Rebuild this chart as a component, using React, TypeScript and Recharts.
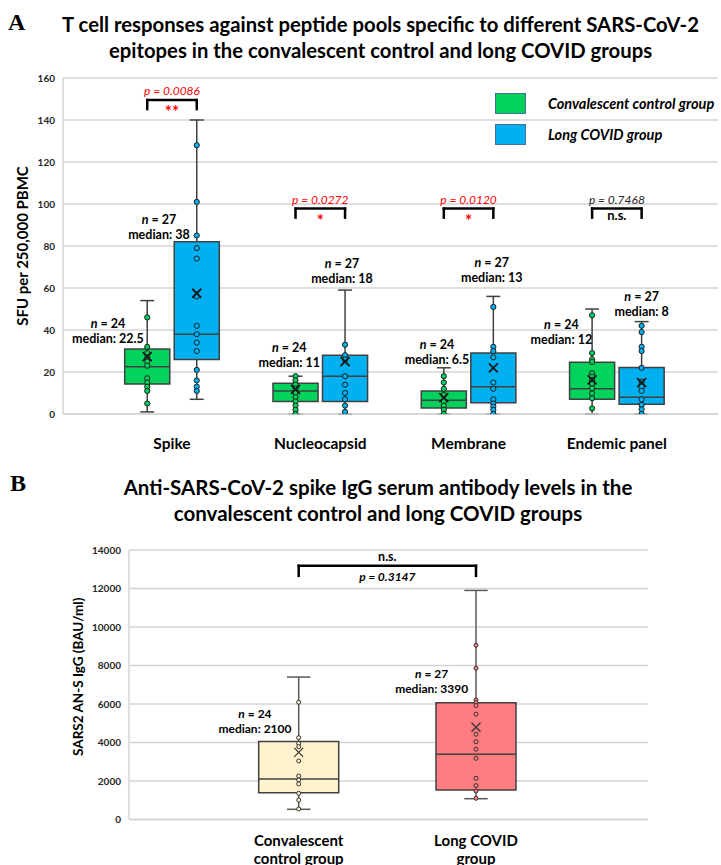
import React from 'react';
import {
  ComposedChart,
  Scatter,
  XAxis,
  YAxis,
  CartesianGrid,
  ReferenceArea,
  ReferenceLine,
  Legend,
} from 'recharts';

const FONT = 'Lato, "Open Sans", "Noto Sans", sans-serif';

// ---------------- Panel A data ----------------
const epitopes = ['Spike', 'Nucleocapsid', 'Membrane', 'Endemic panel'];
const yTicksA = [0, 20, 40, 60, 80, 100, 120, 140, 160];
const groupNames = ['Convalescent control group', 'Long COVID group'];

const convN = [24, 24, 24, 24];
const convMin = [1, 0, 0, 0];
const convQ1 = [14.3, 6, 2.8, 7];
const convMedian = [22.5, 11, 6.5, 12];
const convQ3 = [31, 14.6, 11, 24.6];
const convMax = [54, 18, 22, 50];
const convMean = [27.3, 11.7, 7.8, 16.3];
const convPoints = [
  [46, 32, 29, 27, 25, 23, 17, 15, 13, 11, 5],
  [18, 16, 14, 12, 10, 8, 6, 4, 2, 0],
  [18, 15, 12, 9, 6, 4, 2, 0],
  [47, 29, 26, 24.8, 19.4, 17.8, 16.2, 14.3, 12.2, 9.8, 7.5, 2.7],
];

const lcN = [27, 27, 27, 27];
const lcMin = [7, 0, 0, 0];
const lcQ1 = [26, 6, 5.4, 4.6];
const lcMedian = [38, 18, 13, 8];
const lcQ3 = [82, 28, 29, 22.2];
const lcMax = [140, 59, 56, 44];
const lcMean = [57.5, 25, 22, 14.9];
const lcPoints = [
  [128, 101, 85, 79, 74, 56, 42, 38, 34, 30, 21, 16, 13, 11],
  [33, 28, 26, 18, 14, 10, 7, 4, 1],
  [51, 32, 30, 27, 15, 12, 7, 5, 3.5, 2, 0],
  [42, 39, 32, 30, 22, 15.4, 13, 11, 7, 4.3, 2.2, 0],
];

const pValuesA = ['0.0086', '0.0272', '0.0120', '0.7468'];
const sigA = ['**', '*', '*', 'n.s.'];

// ---------------- Panel B data ----------------
const xLabelsB = [
  ['Convalescent', 'control group'],
  ['Long COVID', 'group'],
];
const yTicksB = [0, 2000, 4000, 6000, 8000, 10000, 12000, 14000];
const nB = [24, 27];
const minB = [530, 1080];
const q1B = [1390, 1530];
const medianB = [2100, 3390];
const q3B = [4050, 6070];
const maxB = [7400, 11900];
const meanB = [3490, 4790];
const pointsB = [
  [6090, 4250, 3950, 3780, 3040, 2260, 2050, 1850, 1360, 1010, 550],
  [9050, 7860, 6210, 6070, 5920, 5470, 4430, 4040, 3650, 3180, 2140, 1760, 1480, 1100],
];
const pValueB = '0.3147';
const sigB = 'n.s.';

// ---------------- layout (not data) ----------------
const A_OFF = 0.167;
const A_HALF = 0.152;
const A_CAP = 0.047;
const bracketTopA = [149.5, 97.8, 97.8, 97.8];
const bracketLegA = 4.3;
const convLabelAnchorA = [
  [-0.432, 43.3],
  [0.791, 31.9],
  [1.787, 33.5],
  [2.626, 42.9],
];
const lcLabelAnchorA = [
  [-0.088, 92.9],
  [1.146, 72.0],
  [2.156, 72.2],
  [3.167, 56.2],
];
const B_HALF = 0.2256;
const B_CAP = 0.066;
const bracketTopB = 13176;
const bracketLegB = 520;
const labelAnchorB = [
  [-0.2465, 5520],
  [0.75, 7599],
];

// ---------------- colours ----------------
const GREEN = '#00D25B';
const BLUE = '#00B0F0';
const YELLOW = '#FFF2CC';
const PINK = '#FF7C80';
const EDGE = '#404040';
const GRID = '#D4D4D4';
const RED = '#FF0000';

// ---------------- shapes ----------------
const dotShape = (fill: string, r: number, stroke: string, sw: number) => (p: any) =>
  p.cx == null ? <g /> : <circle cx={p.cx} cy={p.cy} r={r} fill={fill} stroke={stroke} strokeWidth={sw} />;

const crossShape = (s: number, stroke: string, sw: number) => (p: any) =>
  p.cx == null ? (
    <g />
  ) : (
    <path
      d={`M${p.cx - s},${p.cy - s}L${p.cx + s},${p.cy + s}M${p.cx - s},${p.cy + s}L${p.cx + s},${p.cy - s}`}
      stroke={stroke}
      strokeWidth={sw}
      fill="none"
    />
  );

const nLabelShape = (fontSize: number, gap: number) => (p: any) => {
  if (p.cx == null) return <g />;
  const { cx, cy, payload } = p;
  return (
    <g>
      <text x={cx} y={cy} textAnchor="middle" dominantBaseline="central" fontFamily={FONT} fontSize={fontSize} fontWeight={700} fill="#000">
        <tspan fontStyle="italic">n</tspan>
        <tspan>{' = ' + payload.n}</tspan>
      </text>
      <text x={cx} y={cy + gap} textAnchor="middle" dominantBaseline="central" fontFamily={FONT} fontSize={fontSize} fontWeight={700} fill="#000">
        {'median: ' + payload.median}
      </text>
    </g>
  );
};

const sigShapeA = (p: any) => {
  if (p.cx == null) return <g />;
  const { cx, cy, payload } = p;
  const red = payload.sig !== 'n.s.';
  return (
    <g>
      <text x={cx} y={cy - 9.5} textAnchor="middle" dominantBaseline="central" fontFamily={FONT} fontSize={12} fontStyle="italic" fill={red ? RED : '#262626'}>
        {'p = ' + payload.p}
      </text>
      <text x={cx} y={cy + (red ? 11.5 : 6.5)} textAnchor="middle" dominantBaseline="central" fontFamily={FONT} fontSize={red ? 17 : 13} fontWeight={700} fill={red ? RED : '#000'}>
        {payload.sig}
      </text>
    </g>
  );
};

const sigShapeB = (p: any) => {
  if (p.cx == null) return <g />;
  const { cx, cy, payload } = p;
  return (
    <g>
      <text x={cx} y={cy - 9} textAnchor="middle" dominantBaseline="central" fontFamily={FONT} fontSize={12.5} fontWeight={700} fill="#000">
        {payload.sig}
      </text>
      <text x={cx} y={cy + 10.5} textAnchor="middle" dominantBaseline="central" fontFamily={FONT} fontSize={12} fontWeight={700} fontStyle="italic" fill="#000">
        {'p = ' + payload.p}
      </text>
    </g>
  );
};

function boxElements(
  key: string,
  cx: number,
  half: number,
  cap: number,
  min: number,
  q1: number,
  med: number,
  q3: number,
  max: number,
  fill: string,
  whisker: string,
  sw: number,
) {
  return [
    <ReferenceLine key={key + 'wu'} segment={[{ x: cx, y: q3 }, { x: cx, y: max }]} stroke={whisker} strokeWidth={sw} ifOverflow="visible" />,
    <ReferenceLine key={key + 'wl'} segment={[{ x: cx, y: min }, { x: cx, y: q1 }]} stroke={whisker} strokeWidth={sw} ifOverflow="visible" />,
    <ReferenceLine key={key + 'cu'} segment={[{ x: cx - cap, y: max }, { x: cx + cap, y: max }]} stroke={whisker} strokeWidth={sw} ifOverflow="visible" />,
    <ReferenceLine key={key + 'cl'} segment={[{ x: cx - cap, y: min }, { x: cx + cap, y: min }]} stroke={whisker} strokeWidth={sw} ifOverflow="visible" />,
    <ReferenceArea key={key + 'box'} x1={cx - half} x2={cx + half} y1={q1} y2={q3} fill={fill} fillOpacity={1} stroke={EDGE} strokeWidth={sw} ifOverflow="visible" />,
    <ReferenceLine key={key + 'med'} segment={[{ x: cx - half, y: med }, { x: cx + half, y: med }]} stroke={EDGE} strokeWidth={sw} ifOverflow="visible" />,
  ];
}

function bracketElements(key: string, x1: number, x2: number, top: number, leg: number, sw: number) {
  return [
    <ReferenceLine key={key + 'l'} segment={[{ x: x1, y: top - leg }, { x: x1, y: top }]} stroke="#000" strokeWidth={sw} strokeLinecap="square" ifOverflow="visible" />,
    <ReferenceLine key={key + 't'} segment={[{ x: x1, y: top }, { x: x2, y: top }]} stroke="#000" strokeWidth={sw} strokeLinecap="square" ifOverflow="visible" />,
    <ReferenceLine key={key + 'r'} segment={[{ x: x2, y: top - leg }, { x: x2, y: top }]} stroke="#000" strokeWidth={sw} strokeLinecap="square" ifOverflow="visible" />,
  ];
}

const yLabel = (text: string, fontSize: number, dxFromLeft: number, dy: number, fallbackY: number) => (props: any) => {
  const vb = props && props.viewBox ? props.viewBox : null;
  const x = vb ? vb.x + dxFromLeft : dxFromLeft;
  const y = vb ? vb.y + vb.height / 2 + dy : fallbackY;
  return (
    <text x={x} y={y} transform={`rotate(-90 ${x} ${y})`} textAnchor="middle" dominantBaseline="central" fontFamily={FONT} fontSize={fontSize} fontWeight={700} fill="#000">
      {text}
    </text>
  );
};

const TickA = (p: any) => (
  <text x={p.x} y={p.y + 21} textAnchor="middle" dominantBaseline="central" fontFamily={FONT} fontSize={15.5} fontWeight={700} fill="#000">
    {epitopes[Math.round(p.payload.value)]}
  </text>
);

const TickB = (p: any) => {
  const lines = xLabelsB[Math.round(p.payload.value)] || [];
  return (
    <g>
      {lines.map((l, i) => (
        <text key={l} x={p.x} y={p.y + 12 + i * 18} textAnchor="middle" dominantBaseline="central" fontFamily={FONT} fontSize={15} fontWeight={700} fill="#000">
          {l}
        </text>
      ))}
    </g>
  );
};

const LegendA = () => (
  <div style={{ fontFamily: FONT, fontSize: 14.5, fontWeight: 700, fontStyle: 'italic', whiteSpace: 'nowrap', color: '#000' }}>
    {groupNames.map((g, i) => (
      <div key={g} style={{ display: 'flex', alignItems: 'center', height: 31 }}>
        <div
          style={{
            width: 31,
            height: 21,
            background: i ? BLUE : GREEN,
            border: '1.5px solid #41719C',
            boxSizing: 'border-box',
            marginRight: 22,
            flex: 'none',
          }}
        />
        <span>{g}</span>
      </div>
    ))}
  </div>
);

const tickStyle = { fontFamily: FONT, fontSize: 10, fontWeight: 700, fill: '#262626' };

export default function App() {
  // Panel A series built from the arrays
  const convDotsA = convPoints.flatMap((arr, i) => arr.map((v) => ({ x: i - A_OFF, y: v })));
  const lcDotsA = lcPoints.flatMap((arr, i) => arr.map((v) => ({ x: i + A_OFF, y: v })));
  const meansA = [
    ...convMean.map((v, i) => ({ x: i - A_OFF, y: v })),
    ...lcMean.map((v, i) => ({ x: i + A_OFF, y: v })),
  ];
  const labelsA = [
    ...convLabelAnchorA.map((a, i) => ({ x: a[0], y: a[1], n: convN[i], median: convMedian[i] })),
    ...lcLabelAnchorA.map((a, i) => ({ x: a[0], y: a[1], n: lcN[i], median: lcMedian[i] })),
  ];
  const sigsA = epitopes.map((_, i) => ({ x: i, y: bracketTopA[i], p: pValuesA[i], sig: sigA[i] }));

  const boxesA = epitopes.flatMap((_, i) => [
    ...boxElements('c' + i, i - A_OFF, A_HALF, A_CAP, convMin[i], convQ1[i], convMedian[i], convQ3[i], convMax[i], GREEN, EDGE, 1.5),
    ...boxElements('l' + i, i + A_OFF, A_HALF, A_CAP, lcMin[i], lcQ1[i], lcMedian[i], lcQ3[i], lcMax[i], BLUE, EDGE, 1.5),
  ]);
  const bracketsA = epitopes.flatMap((_, i) => bracketElements('b' + i, i - A_OFF, i + A_OFF, bracketTopA[i], bracketLegA, 2.5));

  // Panel B
  const dotsB0 = pointsB[0].map((v) => ({ x: 0, y: v }));
  const dotsB1 = pointsB[1].map((v) => ({ x: 1, y: v }));
  const meansB = meanB.map((v, i) => ({ x: i, y: v }));
  const labelsB = labelAnchorB.map((a, i) => ({ x: a[0], y: a[1], n: nB[i], median: medianB[i] }));
  const sigsBData = [{ x: 0.5, y: bracketTopB, p: pValueB, sig: sigB }];
  const boxesB = [
    ...boxElements('bc', 0, B_HALF, B_CAP, minB[0], q1B[0], medianB[0], q3B[0], maxB[0], YELLOW, '#595959', 1.5),
    ...boxElements('bl', 1, B_HALF, B_CAP, minB[1], q1B[1], medianB[1], q3B[1], maxB[1], PINK, '#595959', 1.5),
  ];
  const bracketB = bracketElements('bb', 0, 1, bracketTopB, bracketLegB, 2.5);

  return (
    <div style={{ position: 'absolute', left: 0, top: 0, width: 721, height: 865, background: '#fff', overflow: 'hidden' }}>
      {/* Panel A chart */}
      <div style={{ position: 'absolute', left: 0, top: 0 }}>
        <ComposedChart width={721} height={470} margin={{ top: 78, right: 3, bottom: 26, left: 0 }}>
          <CartesianGrid vertical={false} stroke={GRID} strokeWidth={1.5} />
          <XAxis
            type="number"
            dataKey="x"
            domain={[-0.735, 3.682]}
            ticks={[0, 1, 2, 3]}
            interval={0}
            allowDataOverflow
            tick={<TickA />}
            tickLine={false}
            axisLine={{ stroke: GRID, strokeWidth: 1.5 }}
            height={30}
          />
          <YAxis
            type="number"
            dataKey="y"
            domain={[0, 160]}
            ticks={yTicksA}
            interval={0}
            allowDataOverflow
            width={63}
            tickLine={false}
            axisLine={{ stroke: GRID, strokeWidth: 1.5 }}
            tick={tickStyle}
            label={yLabel('SFU per 250,000 PBMC', 15, 22, 0, 246)}
          />
          {boxesA}
          {bracketsA}
          <Scatter data={convDotsA} dataKey="y" shape={dotShape(GREEN, 2.6, '#1f1f1f', 1)} isAnimationActive={false} />
          <Scatter data={lcDotsA} dataKey="y" shape={dotShape(BLUE, 2.6, '#1f1f1f', 1)} isAnimationActive={false} />
          <Scatter data={meansA} dataKey="y" shape={crossShape(4.5, '#1a1a1a', 1.8)} isAnimationActive={false} />
          <Scatter data={labelsA} dataKey="y" shape={nLabelShape(12.5, 15.5)} isAnimationActive={false} />
          <Scatter data={sigsA} dataKey="y" shape={sigShapeA} isAnimationActive={false} />
          <Legend
            layout="vertical"
            align="center"
            verticalAlign="middle"
            wrapperStyle={{ top: 88, left: 495, width: 260 }}
            content={() => <LegendA />}
          />
        </ComposedChart>
      </div>

      {/* Panel B chart */}
      <div style={{ position: 'absolute', left: 0, top: 460 }}>
        <ComposedChart width={721} height={405} margin={{ top: 90, right: 73, bottom: 0, left: 0 }}>
          <CartesianGrid vertical={false} stroke={GRID} strokeWidth={1.5} />
          <XAxis
            type="number"
            dataKey="x"
            domain={[-0.957, 1.97]}
            ticks={[0, 1]}
            interval={0}
            allowDataOverflow
            tick={<TickB />}
            tickLine={false}
            axisLine={{ stroke: GRID, strokeWidth: 1.5 }}
            height={45.5}
          />
          <YAxis
            type="number"
            dataKey="y"
            domain={[0, 14000]}
            ticks={yTicksB}
            interval={0}
            allowDataOverflow
            width={129}
            tickLine={false}
            axisLine={{ stroke: GRID, strokeWidth: 1.5 }}
            tick={tickStyle}
            label={yLabel('SARS2 AN-S IgG (BAU/ml)', 13.5, 78, -8, 216.7)}
          />
          {boxesB}
          {bracketB}
          <Scatter data={dotsB0} dataKey="y" shape={dotShape(YELLOW, 2, '#333', 1)} isAnimationActive={false} />
          <Scatter data={dotsB1} dataKey="y" shape={dotShape(PINK, 2, '#333', 1)} isAnimationActive={false} />
          <Scatter data={meansB} dataKey="y" shape={crossShape(4.5, '#333', 1.2)} isAnimationActive={false} />
          <Scatter data={labelsB} dataKey="y" shape={nLabelShape(12, 15.5)} isAnimationActive={false} />
          <Scatter data={sigsBData} dataKey="y" shape={sigShapeB} isAnimationActive={false} />
        </ComposedChart>
      </div>

      {/* Titles */}
      <div style={{ position: 'absolute', left: 8, top: 8, fontFamily: '"Liberation Serif", serif', fontWeight: 700, fontSize: 24, lineHeight: '28px', color: '#000' }}>A</div>
      <div
        style={{
          position: 'absolute',
          left: 20,
          top: 11,
          width: 721,
          textAlign: 'center',
          fontFamily: FONT,
          fontWeight: 700,
          fontSize: 20.3,
          lineHeight: '26px',
          color: '#000',
          whiteSpace: 'nowrap',
        }}
      >
        <div>T cell responses against peptide pools specific to different SARS-CoV-2</div>
        <div>epitopes in the convalescent control and long COVID groups</div>
      </div>
      <div style={{ position: 'absolute', left: 10, top: 469, fontFamily: '"Liberation Serif", serif', fontWeight: 700, fontSize: 24, lineHeight: '28px', color: '#000' }}>B</div>
      <div
        style={{
          position: 'absolute',
          left: 17.5,
          top: 474,
          width: 721,
          textAlign: 'center',
          fontFamily: FONT,
          fontWeight: 700,
          fontSize: 20.5,
          lineHeight: '26px',
          color: '#000',
          whiteSpace: 'nowrap',
        }}
      >
        <div>Anti-SARS-CoV-2 spike IgG serum antibody levels in the</div>
        <div>convalescent control and long COVID groups</div>
      </div>
    </div>
  );
}
